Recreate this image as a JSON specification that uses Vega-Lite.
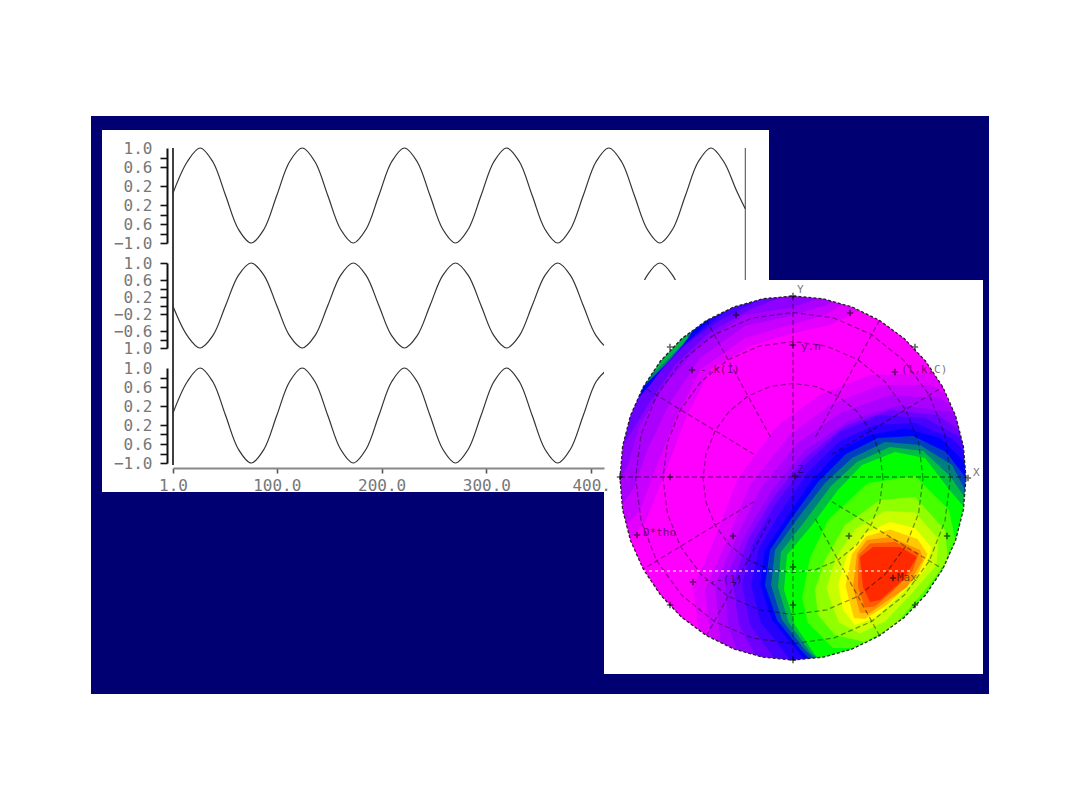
{
  "$schema": "https://vega.github.io/schema/vega-lite/v6.json",
  "width": 1080,
  "height": 810,
  "padding": 0,
  "autosize": "none",
  "background": "#ffffff",
  "config": {
    "view": {"stroke": null},
    "axis": {"grid": false, "labelFont": "DejaVu Sans Mono", "labelFontSize": 16, "labelColor": "#777777", "labelOverlap": false, "labelBound": false, "labelFlush": false, "domainColor": "#111111", "domainWidth": 2, "tickColor": "#111111", "tickWidth": 1.6, "tickSize": 7, "labelPadding": 8}
  },
  "resolve": {
    "scale": {"x": "independent", "y": "independent", "color": "independent"},
    "axis": {"x": "independent", "y": "independent"}
  },
  "datasets": {
    "sheets": [
      {"type": "Feature", "properties": {"kind": "frame"}, "geometry": {"type": "Polygon", "coordinates": [[[-70.2, 36.2], [19.6, 36.2], [19.6, -21.6], [-70.2, -21.6], [-70.2, 36.2]]]}},
      {"type": "Feature", "properties": {"kind": "panel"}, "geometry": {"type": "Polygon", "coordinates": [[[-69.1, 34.8], [-2.4, 34.8], [-2.4, -1.4], [-69.1, -1.4], [-69.1, 34.8]]]}}
    ],
    "bands": [
      {"type": "Feature", "properties": {"level": 0}, "geometry": {"type": "Polygon", "coordinates": [[[-18.9, 19.8], [19, 19.8], [19, -19.6], [-18.9, -19.6], [-18.9, 19.8]]]}},
      {"type": "Feature", "properties": {"level": 0.5}, "geometry": {"type": "Polygon", "coordinates": [[[-9.5, -19.5], [-9.2, -17], [-10, -11], [-8, -6.5], [-5.5, 0], [-1.5, 5.3], [2.7, 8.3], [7.7, 10.3], [13.7, 10.5], [18.9, 8], [18.9, -19.5], [-9.5, -19.5]]]}},
      {"type": "Feature", "properties": {"level": 0.5}, "geometry": {"type": "Polygon", "coordinates": [[[-18.1, -8], [-14.8, -4.5], [-12.8, 0.5], [-10.8, 5.8], [-8.3, 10.8], [-4.3, 13.2], [-0.3, 14.4], [3.7, 15.3], [6.7, 16.8], [7.7, 19.3], [-9.3, 19.3], [-18.1, 9.8], [-18.1, -8]]]}},
      {"type": "Feature", "properties": {"level": 1}, "geometry": {"type": "Polygon", "coordinates": [[[-8.5, -19.5], [-8.1, -17.2], [-8.8, -11.2], [-6.8, -6.7], [-4.3, -0.7], [-0.3, 4.3], [3.7, 7.3], [8.7, 9.3], [13.7, 9.3], [18.2, 6.8], [18.9, -2.2], [18.9, -19.5], [-8.5, -19.5]]]}},
      {"type": "Feature", "properties": {"level": 1}, "geometry": {"type": "Polygon", "coordinates": [[[-18.1, -6.2], [-15.3, -3.2], [-13.8, 0.8], [-11.8, 5.8], [-9.3, 10.8], [-4.8, 14], [-0.3, 15.3], [3.2, 16.3], [5.7, 17.8], [6.7, 19.3], [-9.3, 19.3], [-18.1, 9.8], [-18.1, -6.2]]]}},
      {"type": "Feature", "properties": {"level": 1.5}, "geometry": {"type": "Polygon", "coordinates": [[[-6.6, -19.5], [-7.3, -16], [-7.8, -10.7], [-5.8, -6.2], [-3.2, -1], [0.45, 3.5], [4.7, 6.5], [9.7, 8.3], [14.7, 8], [18.5, 5.3], [18.9, -19.5], [-6.6, -19.5]]]}},
      {"type": "Feature", "properties": {"level": 1.5}, "geometry": {"type": "Polygon", "coordinates": [[[-18.1, -4], [-15.9, -1], [-14.5, 3], [-12.3, 7.5], [-9.3, 12], [-4.8, 15.2], [-0.3, 16.2], [3.4, 17.3], [5.2, 18.5], [5.7, 19.3], [-9.3, 19.3], [-18.1, 9.8], [-18.1, -4]]]}},
      {"type": "Feature", "properties": {"level": 2}, "geometry": {"type": "Polygon", "coordinates": [[[-4.8, -19.5], [-6.5, -14.7], [-6.8, -10.2], [-4.8, -5.7], [-2.1, -1.2], [1.2, 2.8], [5.7, 5.8], [10.7, 7.3], [15.7, 6.6], [18.9, 3.8], [18.9, -19.5], [-4.8, -19.5]]]}},
      {"type": "Feature", "properties": {"level": 2}, "geometry": {"type": "Polygon", "coordinates": [[[-18.1, -1.7], [-16.5, 1.3], [-15.3, 5.3], [-12.8, 9.3], [-9.3, 13.3], [-4.8, 16.3], [-0.3, 17], [3.7, 18.3], [4.7, 19.3], [-9.3, 19.3], [-18.1, 9.8], [-18.1, -1.7]]]}},
      {"type": "Feature", "properties": {"level": 2.5}, "geometry": {"type": "Polygon", "coordinates": [[[-2.8, -19.5], [-5.4, -14.7], [-6, -10.5], [-4.5, -6.2], [-2, -2], [1.2, 2], [5.2, 5.2], [9.7, 6.8], [14.5, 6.3], [18, 3.8], [18.9, 2.8], [18.9, -19.5], [-2.8, -19.5]]]}},
      {"type": "Feature", "properties": {"level": 2.5}, "geometry": {"type": "Polygon", "coordinates": [[[-18.1, 2], [-16.5, 4], [-14.5, 7.3], [-11.8, 11.3], [-8.3, 14.6], [-4, 17], [-0.8, 18.2], [1.5, 19.3], [-12, 19.3], [-18.1, 10.8], [-18.1, 2]]]}},
      {"type": "Feature", "properties": {"level": 3}, "geometry": {"type": "Polygon", "coordinates": [[[-0.8, -19.5], [-4.3, -14.7], [-5.1, -10.7], [-4.1, -6.7], [-1.8, -2.7], [1.2, 1.3], [4.7, 4.6], [8.7, 6.3], [13.2, 6], [17.2, 3.8], [18.9, 1.8], [18.9, -19.5], [-0.8, -19.5]]]}},
      {"type": "Feature", "properties": {"level": 3}, "geometry": {"type": "Polygon", "coordinates": [[[-18.1, 5.8], [-16.5, 6.8], [-13.8, 10], [-10.8, 13.3], [-7.3, 15.8], [-3.3, 17.8], [-1.3, 19.3], [-14.3, 19.3], [-18.1, 11.8], [-18.1, 5.8]]]}},
      {"type": "Feature", "properties": {"level": 3.5}, "geometry": {"type": "Polygon", "coordinates": [[[0.7, -19.5], [-2.1, -15.8], [-3.2, -14.5], [-4.2, -10.7], [-3.4, -7], [-1.3, -3.5], [1.5, 0.6], [4.7, 3.7], [8.2, 5.3], [12.2, 5.5], [16, 3.9], [18.2, 1.5], [18.9, 0.8], [18.9, -19.5], [0.7, -19.5]]]}},
      {"type": "Feature", "properties": {"level": 3.5}, "geometry": {"type": "Polygon", "coordinates": [[[-17, 6.5], [-15.4, 8], [-13, 11.2], [-10.3, 13.8], [-7.7, 15.9], [-5, 17.8], [-4, 19.3], [-14, 19.3], [-18.1, 11], [-17, 6.5]]]}},
      {"type": "Feature", "properties": {"level": 4}, "geometry": {"type": "Polygon", "coordinates": [[[2.2, -19.5], [0.2, -17], [-2.1, -14.2], [-3.3, -10.7], [-2.8, -7.2], [-0.8, -4.2], [1.9, -0.2], [4.7, 2.8], [7.7, 4.3], [11.2, 5], [14.7, 4], [17.5, 1.3], [18.9, -0.2], [18.9, -19.5], [2.2, -19.5]]]}},
      {"type": "Feature", "properties": {"level": 4}, "geometry": {"type": "Polygon", "coordinates": [[[-16.1, 7.3], [-14.3, 9.3], [-12.1, 12.3], [-9.8, 14.3], [-8.1, 16], [-6.8, 17.8], [-13.3, 19.3], [-18.1, 10.8], [-16.1, 7.3]]]}},
      {"type": "Feature", "properties": {"level": 4.5}, "geometry": {"type": "Polygon", "coordinates": [[[3, -19.5], [0.7, -17.1], [-1.6, -14.2], [-2.8, -10.7], [-2.3, -7.2], [-0.2, -4.1], [2.5, -0.4], [5.3, 2.4], [8.5, 4], [12, 4.2], [15.3, 2.6], [17.3, 0], [18.9, -1.7], [18.9, -19.5], [3, -19.5]]]}},
      {"type": "Feature", "properties": {"level": 5}, "geometry": {"type": "Polygon", "coordinates": [[[3.7, -19.5], [1.2, -17.2], [-1.1, -14.2], [-2.2, -10.7], [-1.8, -7.2], [0.5, -4], [3.2, -0.5], [5.9, 2], [9.2, 3.6], [12.7, 3.3], [15.9, 1.3], [17.2, -1.2], [18.9, -3.2], [18.9, -19.5], [3.7, -19.5]]]}},
      {"type": "Feature", "properties": {"level": 5}, "geometry": {"type": "Polygon", "coordinates": [[[-14.8, 9.3], [-12.8, 11.3], [-11, 13.3], [-9.6, 15.3], [-11.3, 17.8], [-16.3, 13.8], [-14.8, 9.3]]]}},
      {"type": "Feature", "properties": {"level": 5.4}, "geometry": {"type": "Polygon", "coordinates": [[[-13.8, 10.6], [-12.1, 12.3], [-10.5, 14], [-11.3, 15.8], [-15.3, 12.8], [-13.8, 10.6]]]}},
      {"type": "Feature", "properties": {"level": 5.5}, "geometry": {"type": "Polygon", "coordinates": [[[4.2, -19.5], [1.7, -17.4], [-0.45, -14.4], [-1.5, -10.9], [-1.2, -7.4], [1.2, -4.3], [3.8, -0.8], [6.4, 1.6], [9.7, 3.1], [13, 2.7], [15.7, 0.2], [17.7, -2.7], [18.9, -5], [18.9, -19.5], [4.2, -19.5]]]}},
      {"type": "Feature", "properties": {"level": 6}, "geometry": {"type": "Polygon", "coordinates": [[[4.7, -19.5], [2.2, -17.7], [0.2, -14.7], [-0.9, -11.2], [-0.6, -7.7], [1.9, -4.7], [4.5, -1.2], [6.9, 1.3], [10.2, 2.6], [13.2, 2], [15.5, -1], [18.2, -4.2], [18.9, -8], [18.9, -19.5], [4.7, -19.5]]]}},
      {"type": "Feature", "properties": {"level": 6.5}, "geometry": {"type": "Polygon", "coordinates": [[[0.9, -12], [1.7, -8], [3.5, -4.2], [7.5, -0.5], [12.2, 0.2], [15.6, -3.2], [16.5, -7.5], [14.5, -11], [11.5, -14.8], [8, -17], [4, -17], [1.5, -14.5], [0.9, -12]]]}},
      {"type": "Feature", "properties": {"level": 7}, "geometry": {"type": "Polygon", "coordinates": [[[2.2, -11.2], [3.2, -8.2], [5.2, -4.7], [8.7, -2.2], [12.2, -1.9], [15.2, -5.2], [15.5, -8.2], [13.2, -11.2], [10.2, -14.7], [7.2, -16.4], [4.2, -15.7], [2.5, -13.7], [2.2, -11.2]]]}},
      {"type": "Feature", "properties": {"level": 7.5}, "geometry": {"type": "Polygon", "coordinates": [[[3.35, -10.95], [4.3, -7.95], [6.2, -5.1], [9.2, -3.3], [12.2, -3.45], [14.55, -6.1], [14.35, -8.7], [11.95, -11.45], [9.2, -14.35], [6.7, -15.55], [4.6, -14.45], [3.75, -12.3], [3.35, -10.95]]]}},
      {"type": "Feature", "properties": {"level": 8}, "geometry": {"type": "Polygon", "coordinates": [[[4.5, -10.7], [5.4, -7.7], [7.2, -5.5], [9.7, -4.4], [12.2, -5], [13.9, -7], [13.2, -9.2], [10.7, -11.7], [8.2, -14], [6.2, -14.7], [5, -13.2], [4.5, -10.7]]]}},
      {"type": "Feature", "properties": {"level": 8.5}, "geometry": {"type": "Polygon", "coordinates": [[[5.25, -10.8], [5.9, -7.6], [7.3, -5.85], [9.7, -5.15], [12.45, -6.1], [13.45, -7.6], [12.3, -10], [9.4, -12.7], [7.2, -14.1], [6.1, -14], [5.25, -10.8]]]}},
      {"type": "Feature", "properties": {"level": 9}, "geometry": {"type": "Polygon", "coordinates": [[[6, -10.9], [6.4, -7.5], [7.4, -6.2], [9.7, -5.9], [12.7, -7.2], [13, -8.2], [11.4, -10.9], [7.7, -13.5], [6.7, -13.5], [6, -10.9]]]}},
      {"type": "Feature", "properties": {"level": 9.5}, "geometry": {"type": "Polygon", "coordinates": [[[6.5, -10.9], [6.55, -7.7], [7.7, -6.55], [10.2, -6.4], [12.55, -7.55], [12, -9.2], [10, -11.3], [8.2, -12.85], [7.2, -12.95], [6.5, -10.9]]]}},
      {"type": "Feature", "properties": {"level": 10}, "geometry": {"type": "Polygon", "coordinates": [[[7, -10.9], [6.7, -7.9], [8, -6.9], [10.7, -6.9], [12.4, -7.9], [11, -10.2], [8.7, -12.2], [7.7, -12.4], [7, -10.9]]]}}
    ],
    "mask": [
      {"type": "Feature", "properties": {"kind": "panel"}, "geometry": {"type": "Polygon", "coordinates": [
        [[-18.9, 19.8], [19, 19.8], [19, -19.6], [-18.9, -19.6], [-18.9, 19.8]],
        [[17.3, 0], [17.04, 3.16], [16.26, 6.22], [14.98, 9.1], [13.25, 11.7], [11.12, 13.94], [8.65, 15.76], [5.92, 17.1], [3.01, 17.92], [0, 18.2], [-3.01, 17.92], [-5.92, 17.1], [-8.65, 15.76], [-11.12, 13.94], [-13.25, 11.7], [-14.98, 9.1], [-16.26, 6.22], [-17.04, 3.16], [-17.3, 0], [-17.04, -3.16], [-16.26, -6.22], [-14.98, -9.1], [-13.25, -11.7], [-11.12, -13.94], [-8.65, -15.76], [-5.92, -17.1], [-3.01, -17.92], [0, -18.2], [3.01, -17.92], [5.92, -17.1], [8.65, -15.76], [11.12, -13.94], [13.25, -11.7], [14.98, -9.1], [16.26, -6.22], [17.04, -3.16], [17.3, 0]]
      ]}}
    ],
    "net": [
      {"type": "Feature", "properties": {"name": "axes"}, "geometry": {"type": "MultiLineString", "coordinates": [[[-17.3, 0.1], [17.3, 0.1]], [[0, 18.2], [0, -18.2]]]}},
      {"type": "Feature", "properties": {"name": "spokes"}, "geometry": {"type": "MultiLineString", "coordinates": [[[3.9, 2.37], [14.98, 9.1]], [[2.25, 4.1], [8.65, 15.76]], [[-2.25, 4.1], [-8.65, 15.76]], [[-3.9, 2.37], [-14.98, 9.1]], [[-3.9, -2.37], [-14.98, -9.1]], [[-2.25, -4.1], [-8.65, -15.76]], [[2.25, -4.1], [8.65, -15.76]], [[3.9, -2.37], [14.98, -9.1]]]}},
      {"type": "Feature", "properties": {"name": "ring2"}, "geometry": {"type": "LineString", "coordinates": [[9, 0], [8.69, 2.45], [7.79, 4.73], [6.36, 6.69], [4.5, 8.19], [2.33, 9.14], [0, 9.46], [-2.33, 9.14], [-4.5, 8.19], [-6.36, 6.69], [-7.79, 4.73], [-8.69, 2.45], [-9, 0], [-8.69, -2.45], [-7.79, -4.73], [-6.36, -6.69], [-4.5, -8.19], [-2.33, -9.14], [0, -9.46], [2.33, -9.14], [4.5, -8.19], [6.36, -6.69], [7.79, -4.73], [8.69, -2.45], [9, 0]]}},
      {"type": "Feature", "properties": {"name": "ring3"}, "geometry": {"type": "LineString", "coordinates": [[13, 0], [12.56, 3.54], [11.26, 6.83], [9.19, 9.65], [6.5, 11.82], [3.37, 13.19], [0, 13.65], [-3.37, 13.19], [-6.5, 11.82], [-9.19, 9.65], [-11.26, 6.83], [-12.56, 3.54], [-13, 0], [-12.56, -3.54], [-11.26, -6.83], [-9.19, -9.65], [-6.5, -11.82], [-3.37, -13.19], [0, -13.65], [3.37, -13.19], [6.5, -11.82], [9.19, -9.65], [11.26, -6.83], [12.56, -3.54], [13, 0]]}},
      {"type": "Feature", "properties": {"name": "ring4"}, "geometry": {"type": "LineString", "coordinates": [[15.74, 0], [15.2, 4.29], [13.63, 8.28], [11.13, 11.71], [7.87, 14.34], [4.08, 16], [0, 16.56], [-4.08, 16], [-7.87, 14.34], [-11.13, 11.71], [-13.63, 8.28], [-15.2, 4.29], [-15.74, 0], [-15.2, -4.29], [-13.63, -8.28], [-11.13, -11.71], [-7.87, -14.34], [-4.08, -16], [0, -16.56], [4.08, -16], [7.87, -14.34], [11.13, -11.71], [13.63, -8.28], [15.2, -4.29], [15.74, 0]]}}
    ],
    "rim": [
      {"type": "Feature", "properties": {"name": "rim"}, "geometry": {"type": "LineString", "coordinates": [[17.3, 0], [17.04, 3.16], [16.26, 6.22], [14.98, 9.1], [13.25, 11.7], [11.12, 13.94], [8.65, 15.76], [5.92, 17.1], [3.01, 17.92], [0, 18.2], [-3.01, 17.92], [-5.92, 17.1], [-8.65, 15.76], [-11.12, 13.94], [-13.25, 11.7], [-14.98, 9.1], [-16.26, 6.22], [-17.04, 3.16], [-17.3, 0], [-17.04, -3.16], [-16.26, -6.22], [-14.98, -9.1], [-13.25, -11.7], [-11.12, -13.94], [-8.65, -15.76], [-5.92, -17.1], [-3.01, -17.92], [0, -18.2], [3.01, -17.92], [5.92, -17.1], [8.65, -15.76], [11.12, -13.94], [13.25, -11.7], [14.98, -9.1], [16.26, -6.22], [17.04, -3.16], [17.3, 0]]}}
    ],
    "scanline": [
      {"type": "Feature", "properties": {"name": "scan"}, "geometry": {"type": "LineString", "coordinates": [[-15, -9.3], [12, -9.3]]}}
    ],
    "nodes": [
      {"lon": -17.3, "lat": 0.1}, {"lon": -12.3, "lat": 0.1}, {"lon": -12.3, "lat": 13.1}, {"lon": -5.7, "lat": 16.3}, {"lon": -10.1, "lat": 10.8}, {"lon": 0, "lat": 13.3}, {"lon": 0.2, "lat": 0.2}, {"lon": 5.7, "lat": 16.5}, {"lon": 12.2, "lat": 13.1}, {"lon": 10.2, "lat": 10.6}, {"lon": 17.5, "lat": 0}, {"lon": 0, "lat": -8.9}, {"lon": 0, "lat": -12.7}, {"lon": 0, "lat": -18.2}, {"lon": 5.6, "lat": -5.8}, {"lon": 15.4, "lat": -5.8}, {"lon": -6, "lat": -5.8}, {"lon": -10, "lat": -10.4}, {"lon": -12.3, "lat": -12.7}, {"lon": 12.2, "lat": -12.7}, {"lon": 10, "lat": -10}, {"lon": -15.6, "lat": -5.7}, {"lon": 0, "lat": 18.2}
    ],
    "notes": [
      {"lon": 0.4, "lat": 18.8, "note": "Y"}, {"lon": 18, "lat": 0.5, "note": "X"}, {"lon": 0.8, "lat": 13.1, "note": "y.n"}, {"lon": -9.3, "lat": 10.8, "note": "-,k(1)"}, {"lon": 10.8, "lat": 10.8, "note": "(l,k,C)"}, {"lon": -15, "lat": -5.5, "note": "D*tho"}, {"lon": -9, "lat": -10.2, "note": "-,-(1)"}, {"lon": 10.4, "lat": -10, "note": "Max"}, {"lon": 0.4, "lat": 0.8, "note": "Z"}
    ],
    "s1": [
      {"x": 1, "v": 0.05}, {"x": 14.6, "v": 0.71}, {"x": 26.8, "v": 1}, {"x": 39, "v": 0.71}, {"x": 51.2, "v": 0}, {"x": 63.4, "v": -0.71}, {"x": 75.6, "v": -1}, {"x": 87.8, "v": -0.71}, {"x": 100, "v": 0}, {"x": 112.2, "v": 0.71}, {"x": 124.3, "v": 1}, {"x": 136.5, "v": 0.71}, {"x": 148.7, "v": 0}, {"x": 160.9, "v": -0.71}, {"x": 173, "v": -1}, {"x": 185.2, "v": -0.71}, {"x": 197.4, "v": 0}, {"x": 209.6, "v": 0.71}, {"x": 221.8, "v": 1}, {"x": 234, "v": 0.71}, {"x": 246.2, "v": 0}, {"x": 258.4, "v": -0.71}, {"x": 270.5, "v": -1}, {"x": 282.7, "v": -0.71}, {"x": 294.9, "v": 0}, {"x": 307.1, "v": 0.71}, {"x": 319.3, "v": 1}, {"x": 331.5, "v": 0.71}, {"x": 343.7, "v": 0}, {"x": 355.9, "v": -0.71}, {"x": 368, "v": -1}, {"x": 380.2, "v": -0.71}, {"x": 392.4, "v": 0}, {"x": 404.6, "v": 0.71}, {"x": 416.8, "v": 1}, {"x": 429, "v": 0.71}, {"x": 441.2, "v": 0}, {"x": 453.4, "v": -0.71}, {"x": 465.5, "v": -1}, {"x": 477.7, "v": -0.71}, {"x": 489.9, "v": 0}, {"x": 502.1, "v": 0.71}, {"x": 514.3, "v": 1}, {"x": 526.5, "v": 0.71}, {"x": 538.7, "v": 0.1}, {"x": 547, "v": -0.28}
    ],
    "s2": [
      {"x": 1, "v": -0.02}, {"x": 14.6, "v": -0.71}, {"x": 26.8, "v": -1}, {"x": 39, "v": -0.71}, {"x": 51.2, "v": 0}, {"x": 63.4, "v": 0.71}, {"x": 75.6, "v": 1}, {"x": 87.8, "v": 0.71}, {"x": 100, "v": 0}, {"x": 112.2, "v": -0.71}, {"x": 124.3, "v": -1}, {"x": 136.5, "v": -0.71}, {"x": 148.7, "v": 0}, {"x": 160.9, "v": 0.71}, {"x": 173, "v": 1}, {"x": 185.2, "v": 0.71}, {"x": 197.4, "v": 0}, {"x": 209.6, "v": -0.71}, {"x": 221.8, "v": -1}, {"x": 234, "v": -0.71}, {"x": 246.2, "v": 0}, {"x": 258.4, "v": 0.71}, {"x": 270.5, "v": 1}, {"x": 282.7, "v": 0.71}, {"x": 294.9, "v": 0}, {"x": 307.1, "v": -0.71}, {"x": 319.3, "v": -1}, {"x": 331.5, "v": -0.71}, {"x": 343.7, "v": 0}, {"x": 355.9, "v": 0.71}, {"x": 368, "v": 1}, {"x": 380.2, "v": 0.71}, {"x": 392.4, "v": 0}, {"x": 404.6, "v": -0.71}, {"x": 416.8, "v": -1}, {"x": 429, "v": -0.71}, {"x": 441.2, "v": 0}, {"x": 453.4, "v": 0.71}, {"x": 465.5, "v": 1}, {"x": 477.7, "v": 0.71}, {"x": 489.9, "v": 0}
    ],
    "s3": [
      {"x": 1, "v": 0.05}, {"x": 14.6, "v": 0.71}, {"x": 26.8, "v": 1}, {"x": 39, "v": 0.71}, {"x": 51.2, "v": 0}, {"x": 63.4, "v": -0.71}, {"x": 75.6, "v": -1}, {"x": 87.8, "v": -0.71}, {"x": 100, "v": 0}, {"x": 112.2, "v": 0.71}, {"x": 124.3, "v": 1}, {"x": 136.5, "v": 0.71}, {"x": 148.7, "v": 0}, {"x": 160.9, "v": -0.71}, {"x": 173, "v": -1}, {"x": 185.2, "v": -0.71}, {"x": 197.4, "v": 0}, {"x": 209.6, "v": 0.71}, {"x": 221.8, "v": 1}, {"x": 234, "v": 0.71}, {"x": 246.2, "v": 0}, {"x": 258.4, "v": -0.71}, {"x": 270.5, "v": -1}, {"x": 282.7, "v": -0.71}, {"x": 294.9, "v": 0}, {"x": 307.1, "v": 0.71}, {"x": 319.3, "v": 1}, {"x": 331.5, "v": 0.71}, {"x": 343.7, "v": 0}, {"x": 355.9, "v": -0.71}, {"x": 368, "v": -1}, {"x": 380.2, "v": -0.71}, {"x": 392.4, "v": 0}, {"x": 404.6, "v": 0.71}, {"x": 416.8, "v": 1}
    ],
    "frames": [
      {"x": 1, "top": 1, "bottom": -1}
    ],
    "frames2": [
      {"x": 547, "top": 1, "bottom": -1}
    ]
  },
  "layer": [
    {
      "data": {"name": "sheets"},
      "projection": {"type": "identity", "reflectY": true, "scale": 10, "translate": [793, 478]},
      "mark": {"type": "geoshape"},
      "encoding": {
        "color": {"field": "properties.kind", "type": "nominal", "scale": {"domain": ["frame", "panel"], "range": ["#000072", "#ffffff"]}, "legend": null}
      }
    },
    {
      "data": {"name": "frames"},
      "mark": {"type": "rule", "color": "#111111", "strokeWidth": 1.6},
      "encoding": {
        "x": {"field": "x", "type": "quantitative", "scale": {"domain": [1, 412.2], "range": [173, 604], "nice": false, "zero": false}, "axis": null},
        "y": {"field": "top", "type": "quantitative", "scale": {"domain": [-1, 1], "range": [465, 148], "nice": false, "zero": false}, "axis": null},
        "y2": {"field": "bottom"}
      }
    },
    {
      "data": {"name": "frames2"},
      "mark": {"type": "rule", "color": "#444444", "strokeWidth": 1},
      "encoding": {
        "x": {"field": "x", "type": "quantitative", "scale": {"domain": [1, 412.2], "range": [173, 604], "nice": false, "zero": false}, "axis": null},
        "y": {"field": "top", "type": "quantitative", "scale": {"domain": [-1, 1], "range": [465, 148], "nice": false, "zero": false}, "axis": null},
        "y2": {"field": "bottom"}
      }
    },
    {
      "data": {"name": "s1"},
      "mark": {"type": "line", "color": "#333333", "strokeWidth": 1.2, "interpolate": "catmull-rom"},
      "encoding": {
        "x": {"field": "x", "type": "quantitative", "scale": {"domain": [1, 412.2], "range": [173, 604], "nice": false, "zero": false}, "axis": null},
        "y": {"field": "v", "type": "quantitative", "scale": {"domain": [-1, 1], "range": [243, 148], "nice": false, "zero": false},
          "axis": {"orient": "left", "offset": -167, "title": null, "zindex": 1, "values": [1, 0.8, 0.6, 0.2, -0.2, -0.4, -0.6, -0.8, -1],
            "tickOpacity": {"condition": {"test": "datum.value == 1", "value": 0}, "value": 1},
            "labelExpr": "datum.value == -1 ? '−1.0' : datum.value == 1 ? '1.0' : (abs(datum.value) == 0.6 || abs(datum.value) == 0.2) ? format(abs(datum.value), '.1f') : ''"}}
      }
    },
    {
      "data": {"name": "s2"},
      "mark": {"type": "line", "color": "#333333", "strokeWidth": 1.2, "interpolate": "catmull-rom"},
      "encoding": {
        "x": {"field": "x", "type": "quantitative", "scale": {"domain": [1, 412.2], "range": [173, 604], "nice": false, "zero": false}, "axis": null},
        "y": {"field": "v", "type": "quantitative", "scale": {"domain": [-1, 1], "range": [348, 263], "nice": false, "zero": false},
          "axis": {"orient": "left", "offset": -167, "title": null, "zindex": 1, "values": [1, 0.6, 0.4, 0.2, 0, -0.2, -0.6, -0.8, -1],
            "labelExpr": "datum.value == -1 ? '1.0' : datum.value == 1 ? '1.0' : datum.value == 0.6 ? '0.6' : datum.value == 0.2 ? '0.2' : datum.value == -0.2 ? '−0.2' : datum.value == -0.6 ? '−0.6' : ''"}}
      }
    },
    {
      "data": {"name": "s3"},
      "mark": {"type": "line", "color": "#333333", "strokeWidth": 1.2, "interpolate": "catmull-rom"},
      "encoding": {
        "x": {"field": "x", "type": "quantitative", "scale": {"domain": [1, 412.2], "range": [173, 604], "nice": false, "zero": false},
          "axis": {"orient": "bottom", "offset": -342, "title": null, "zindex": 1, "values": [1, 100, 200, 300, 400], "domainColor": "#888888", "tickColor": "#555555", "tickSize": 5, "labelPadding": 4,
            "labelExpr": "datum.value == 400 ? '400.' : format(datum.value, '.1f')"}},
        "y": {"field": "v", "type": "quantitative", "scale": {"domain": [-1, 1], "range": [463, 368], "nice": false, "zero": false},
          "axis": {"orient": "left", "offset": -167, "title": null, "zindex": 1, "values": [1, 0.8, 0.6, 0.2, -0.2, -0.4, -0.6, -0.8, -1],
            "tickOpacity": {"condition": {"test": "datum.value == 1", "value": 0}, "value": 1},
            "labelExpr": "datum.value == -1 ? '−1.0' : datum.value == 1 ? '1.0' : (abs(datum.value) == 0.6 || abs(datum.value) == 0.2) ? format(abs(datum.value), '.1f') : ''"}}
      }
    },
    {
      "data": {"name": "bands"},
      "projection": {"type": "identity", "reflectY": true, "scale": 10, "translate": [793, 478]},
      "mark": {"type": "geoshape"},
      "encoding": {
        "color": {"field": "properties.level", "type": "quantitative", "scale": {"domain": [0, 2, 4, 5, 6, 7, 8, 9, 10], "range": ["#ff00ff", "#9000ff", "#0000ff", "#007f80", "#00ff00", "#90ff00", "#ffff00", "#ff9000", "#ff2a00"], "interpolate": "rgb"}, "legend": null}
      }
    },
    {
      "data": {"name": "mask"},
      "projection": {"type": "identity", "reflectY": true, "scale": 10, "translate": [793, 478]},
      "mark": {"type": "geoshape", "fill": "#ffffff", "stroke": null}
    },
    {
      "data": {"name": "net"},
      "projection": {"type": "identity", "reflectY": true, "scale": 10, "translate": [793, 478]},
      "mark": {"type": "geoshape", "filled": false, "stroke": "#000000", "strokeOpacity": 0.42, "strokeWidth": 1.3, "strokeDash": [5, 3]}
    },
    {
      "data": {"name": "rim"},
      "projection": {"type": "identity", "reflectY": true, "scale": 10, "translate": [793, 478]},
      "mark": {"type": "geoshape", "filled": false, "stroke": "#222222", "strokeWidth": 1.3, "strokeDash": [3, 2]}
    },
    {
      "data": {"name": "scanline"},
      "projection": {"type": "identity", "reflectY": true, "scale": 10, "translate": [793, 478]},
      "mark": {"type": "geoshape", "filled": false, "stroke": "#ffffff", "strokeOpacity": 0.7, "strokeWidth": 1.3, "strokeDash": [3, 3]}
    },
    {
      "data": {"name": "nodes"},
      "projection": {"type": "identity", "reflectY": true, "scale": 10, "translate": [793, 478]},
      "mark": {"type": "point", "shape": "M-1,0L1,0M0,-1L0,1", "filled": false, "stroke": "#000000", "opacity": 0.6, "strokeWidth": 1.6, "size": 40},
      "encoding": {
        "longitude": {"field": "lon", "type": "quantitative"},
        "latitude": {"field": "lat", "type": "quantitative"}
      }
    },
    {
      "data": {"name": "notes"},
      "projection": {"type": "identity", "reflectY": true, "scale": 10, "translate": [793, 478]},
      "mark": {"type": "text", "align": "left", "baseline": "middle", "font": "DejaVu Sans Mono", "fontSize": 11, "color": "#000000", "opacity": 0.55},
      "encoding": {
        "longitude": {"field": "lon", "type": "quantitative"},
        "latitude": {"field": "lat", "type": "quantitative"},
        "text": {"field": "note", "type": "nominal"}
      }
    }
  ]
}
